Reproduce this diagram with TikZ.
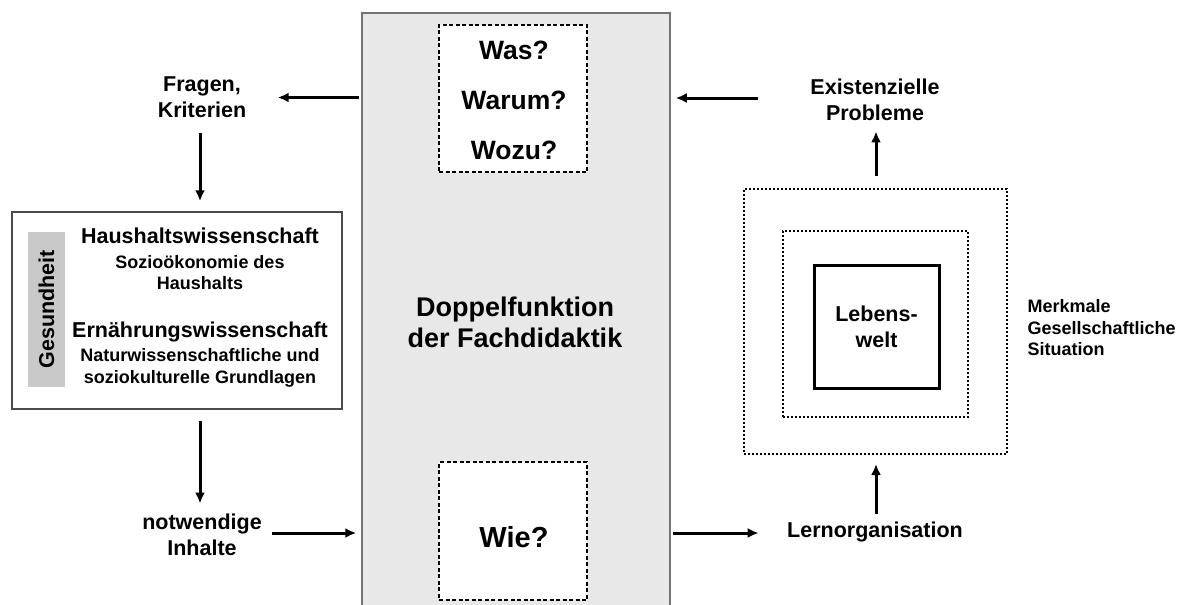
\documentclass[tikz,border=0pt]{standalone}
\usepackage{fontspec}
\setmainfont{Liberation Sans}
\usetikzlibrary{arrows.meta}

\tikzset{
  txt/.style={font=\fontsize{21.5}{26}\selectfont\bfseries, align=center},
  subtxt/.style={font=\fontsize{18}{21.5}\selectfont\bfseries, align=center},
  bigtxt/.style={font=\fontsize{27}{31}\selectfont\bfseries, align=center},
  arr/.style={line width=3pt, -{Latex[length=11pt,width=10pt]}},
  greybox/.style={draw=black!55, line width=1.5pt, fill=gray!18},
  dashbox/.style={draw=black, line width=1.6pt, fill=white, dash pattern=on 4pt off 2.5pt},
  dotbox/.style={draw=black, line width=2pt, dash pattern=on 2pt off 2pt},
}

\begin{document}
\begin{tikzpicture}[x=1pt, y=-1pt]
  \useasboundingbox (0,0) rectangle (1179,605);
  % middle column
  \node[greybox, minimum width=308pt, minimum height=640pt, inner sep=0pt] (didaktik) at (516,333) {};
  \node[dashbox, minimum width=148pt, minimum height=147pt, inner sep=0pt] (fragebox) at (513,98.5) {};
  \node[txt, font=\fontsize{26.5}{30}\selectfont\bfseries] (was) at (514,50) {Was?};
  \node[txt, font=\fontsize{26.5}{30}\selectfont\bfseries] (warum) at (514,100) {Warum?};
  \node[txt, font=\fontsize{26.5}{30}\selectfont\bfseries] (wozu) at (514,150) {Wozu?};
  \node[bigtxt] (doppel) at (515,322) {Doppelfunktion\\der Fachdidaktik};
  \node[dashbox, minimum width=148pt, minimum height=138pt, inner sep=0pt] (wiebox) at (513,531) {};
  \node[txt, font=\fontsize{29}{32}\selectfont\bfseries] (wie) at (514,537) {Wie?};

  % left column
  \node[txt] (fragen) at (202,97.5) {Fragen,\\Kriterien};
  \node[draw=black!70, line width=1.5pt, fill=white, minimum width=330pt, minimum height=197pt, inner sep=0pt] (haushalt) at (177,310.5) {};
  \node[fill=gray!42, minimum width=37pt, minimum height=155pt, inner sep=0pt] (bar) at (46.5,309.5) {};
  \node[txt, rotate=90] (gesund) at (bar) {Gesundheit};
  \node[txt] (hw) at (200,236) {Haushaltswissenschaft};
  \node[subtxt] (hwsub) at (200,272.5) {Sozioökonomie des\\Haushalts};
  \node[txt] (ew) at (200,332) {Ernährungswissenschaft};
  \node[subtxt] (ewsub) at (200,368) {Naturwissenschaftliche und\\soziokulturelle Grundlagen};
  \node[txt] (notwendig) at (202,535) {notwendige\\Inhalte};

  % right column
  \node[txt] (existenz) at (875,100) {Existenzielle\\Probleme};
  \node[dotbox, minimum width=263pt, minimum height=265pt, inner sep=0pt] (aussen) at (875.5,321.5) {};
  \node[dotbox, minimum width=185pt, minimum height=186pt, inner sep=0pt] (mitte) at (875.5,324) {};
  \node[txt, draw=black, line width=3pt, minimum width=125pt, minimum height=123pt, inner sep=0pt] (lebenswelt) at (876.5,326.5) {Lebens-\\welt};
  \node[subtxt, align=left, anchor=west] (merkmale) at (1024,328) {Merkmale\\Gesellschaftliche\\Situation};
  \node[txt] (lernorg) at (875,532) {Lernorganisation};

  % arrows
  \draw[arr] ([xshift=-2pt]didaktik.west |- fragen.east) -- ([xshift=28pt]fragen.east);
  \draw[arr] ([yshift=-11pt]fragen.south -| 200,0) -- ([yshift=10pt]haushalt.north -| 200,0);
  \draw[arr] ([yshift=-11pt]haushalt.south -| 200,0) -- ([yshift=7pt]notwendig.north -| 200,0);
  \draw[arr] ([xshift=7pt]notwendig.east |- 0,533) -- ([xshift=-5pt]didaktik.west |- 0,533);
  \draw[arr] ([xshift=2pt]didaktik.east |- 0,533) -- ([xshift=-25pt]lernorg.west |- 0,533);
  \draw[arr] ([yshift=4pt]lernorg.north -| 876,0) -- ([yshift=-9pt]aussen.south -| 876,0);
  \draw[arr] ([yshift=12pt]aussen.north -| 876,0) -- ([yshift=-7pt]existenz.south -| 876,0);
  \draw[arr] ([xshift=-49pt]existenz.west |- 0,98) -- ([xshift=5pt]didaktik.east |- 0,98);
\end{tikzpicture}
\end{document}
